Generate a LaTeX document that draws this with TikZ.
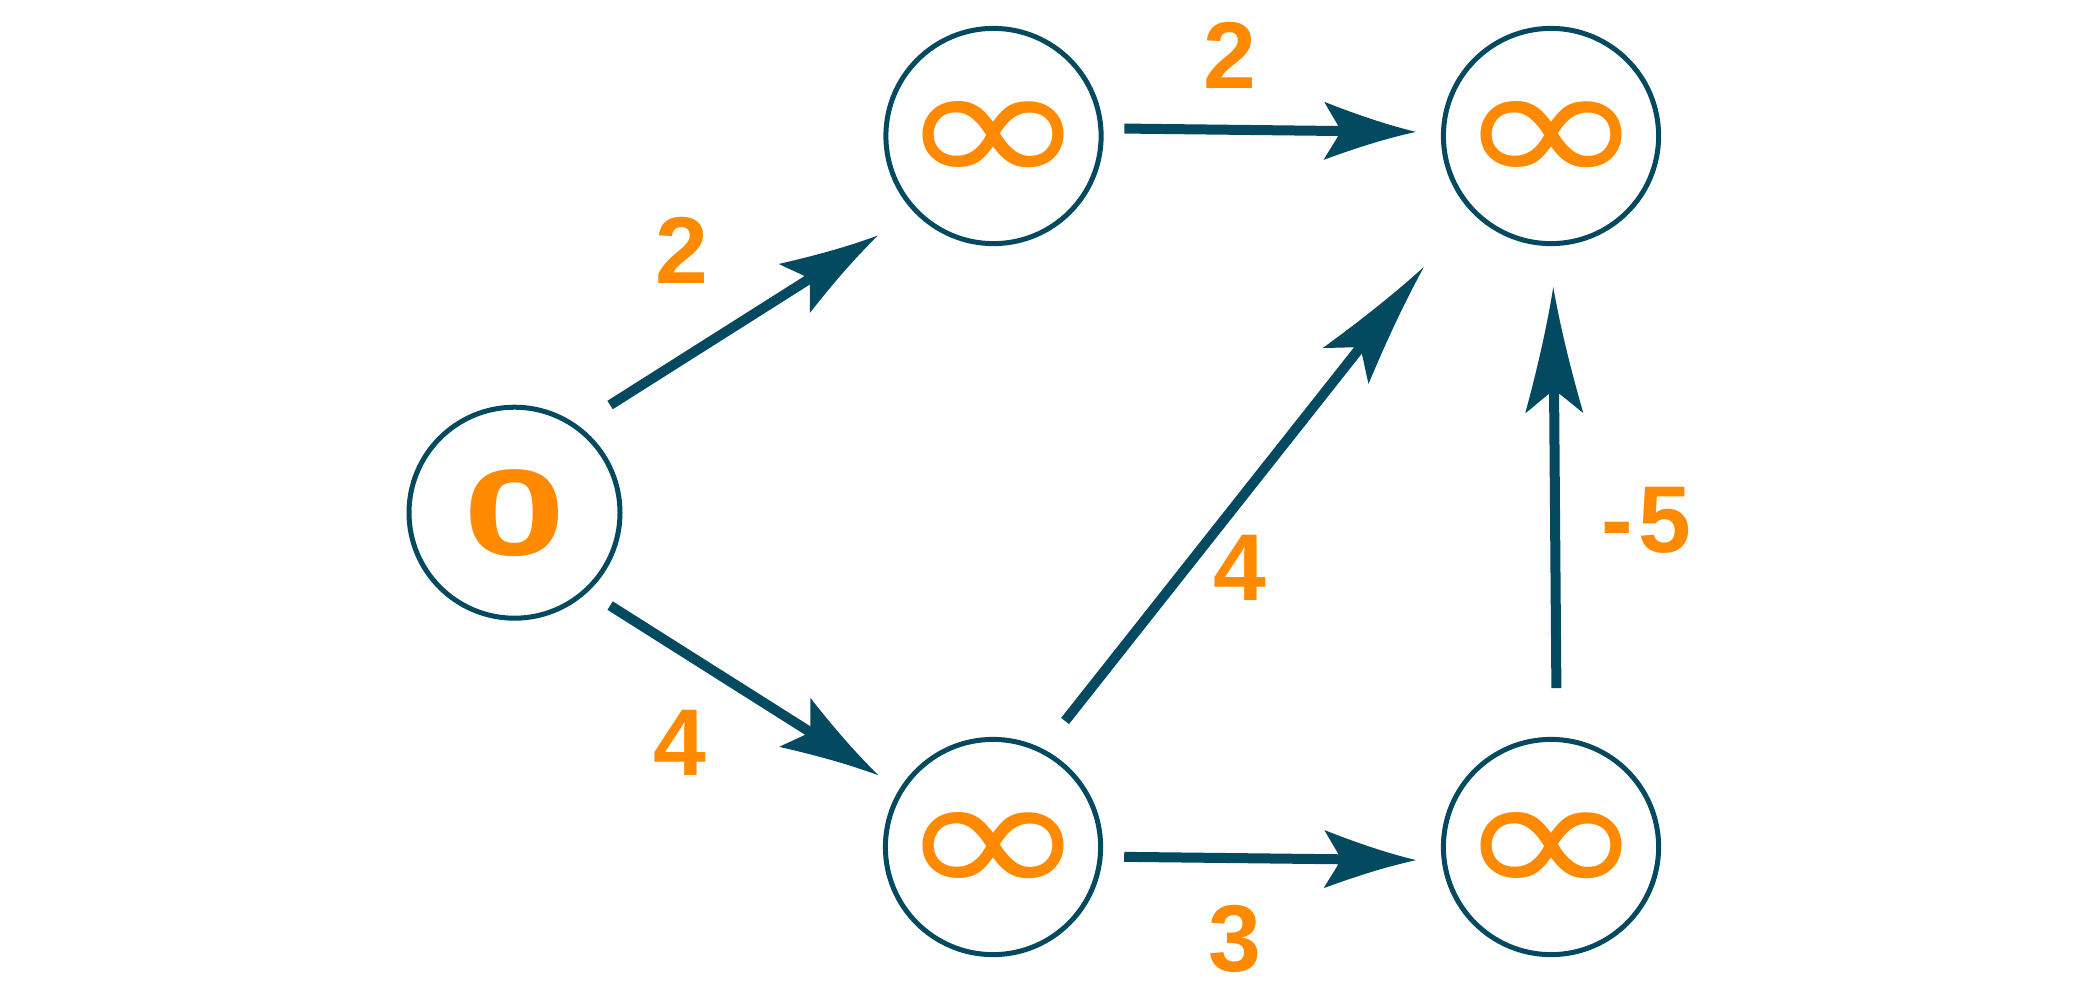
\documentclass[tikz,border=0pt]{standalone}
\usepackage{fontspec}
\setmainfont{Liberation Sans}
\newfontfamily\symfont{DejaVu Sans}
\usepackage{graphicx}
\usetikzlibrary{arrows.meta}
\definecolor{navy}{HTML}{034A60}
\definecolor{amber}{HTML}{FF8A00}
% arrow head with swept flanks and barbs
\pgfdeclarearrow{
  name=Dart,
  parameters={\the\pgfarrowlength,\the\pgfarrowwidth},
  setup code={
    \pgfarrowssettipend{0pt}
    \pgfarrowssetbackend{-\pgfarrowlength}
    \pgfarrowssetlineend{-0.78\pgfarrowlength}
    \pgfarrowsupperhullpoint{-\pgfarrowlength}{0.5\pgfarrowwidth}
    \pgfarrowshullpoint{0pt}{0pt}
    \pgfarrowssavethe\pgfarrowlength
    \pgfarrowssavethe\pgfarrowwidth
  },
  drawing code={
    \pgfpathmoveto{\pgfqpoint{0pt}{0pt}}
    \pgfpathcurveto{\pgfqpoint{-0.33\pgfarrowlength}{0.12\pgfarrowwidth}}
      {\pgfqpoint{-0.67\pgfarrowlength}{0.3\pgfarrowwidth}}
      {\pgfqpoint{-\pgfarrowlength}{0.5\pgfarrowwidth}}
    \pgfpathcurveto{\pgfqpoint{-0.93\pgfarrowlength}{0.3\pgfarrowwidth}}
      {\pgfqpoint{-0.85\pgfarrowlength}{0.12\pgfarrowwidth}}
      {\pgfqpoint{-0.82\pgfarrowlength}{0pt}}
    \pgfpathcurveto{\pgfqpoint{-0.85\pgfarrowlength}{-0.12\pgfarrowwidth}}
      {\pgfqpoint{-0.93\pgfarrowlength}{-0.3\pgfarrowwidth}}
      {\pgfqpoint{-\pgfarrowlength}{-0.5\pgfarrowwidth}}
    \pgfpathcurveto{\pgfqpoint{-0.67\pgfarrowlength}{-0.3\pgfarrowwidth}}
      {\pgfqpoint{-0.33\pgfarrowlength}{-0.12\pgfarrowwidth}}
      {\pgfqpoint{0pt}{0pt}}
    \pgfpathclose
    \pgfusepathqfill
  },
  defaults={length=8mm,width=5mm}
}
\tikzset{
  vertex/.style={circle,draw=navy,line width=0.5mm,minimum size=21.1mm,inner sep=0pt,
    text=amber,font=\bfseries\fontsize{35pt}{35pt}\selectfont},
  wlabel/.style={text=amber,inner sep=0pt,font=\bfseries\fontsize{27pt}{27pt}\selectfont},
  hop/.style={navy,line width=1mm,-{Dart[length=#1,width=5.8mm]}},
}
\newcommand\infsym{\raisebox{0pt}[10.2mm][0pt]{\resizebox{19mm}{8.6mm}{\symfont\mdseries ∞}}}

\begin{document}
\begin{tikzpicture}[x=0.1mm,y=-0.1mm]
  \useasboundingbox (0,0) rectangle (2100,986);
  % vertices
  \node[vertex] (s) at (514.5,512.7) {\scalebox{1.5}[1]{0}};
  \node[vertex] (a) at (993.5,136) {\infsym};
  \node[vertex] (b) at (1551,136) {\infsym};
  \node[vertex] (c) at (993,847) {\infsym};
  \node[vertex] (d) at (1551,847) {\infsym};
  % edges
  \draw[hop=9.9mm,shorten <=3.8mm,shorten >=4.3mm] (s.54) -- (a.224);
  \draw[hop=9.9mm,shorten <=2.6mm,shorten >=2.5mm] (s.-47.2) -- (c.148.5);
  \draw[hop=9.2mm,shorten <=2.1mm,shorten >=2.5mm] (a.4) -- (b.178.6);
  \draw[hop=9.2mm,shorten <=2.15mm,shorten >=2.56mm] (c.-5.5) -- (d.187.8);
  \draw[hop=12.6mm,shorten <=3.56mm,shorten >=7.3mm] (c.63.5) -- (b.222.9);
  \draw[hop=12.6mm,shorten <=4.9mm,shorten >=4.1mm] (d.87.7) -- (b.-89.5);
  % weights
  \node[wlabel] (w1) at (682,250.5) {2};
  \node[wlabel] (w2) at (1230,55.5) {2};
  \node[wlabel] (w3) at (680,742.5) {4};
  \node[wlabel] (w4) at (1240,567.5) {4};
  \node[wlabel] (w5) at (1646.5,520.5) {-\kern0.6mm5};
  \node[wlabel] (w6) at (1235,938.5) {3};
\end{tikzpicture}
\end{document}
